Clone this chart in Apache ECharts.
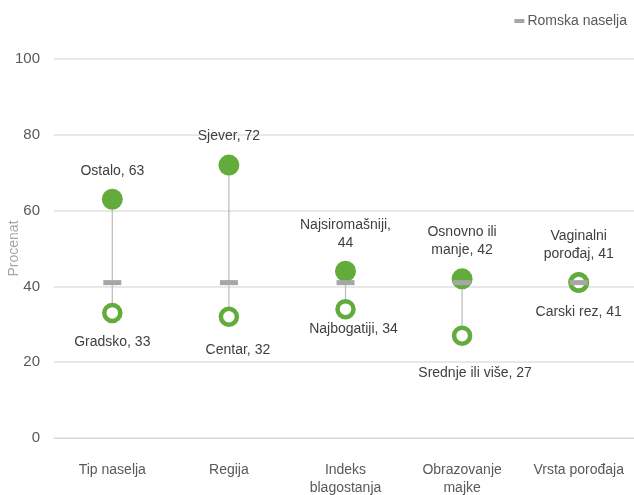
<!DOCTYPE html>
<html>
<head>
<meta charset="utf-8">
<script src="https://cdn.jsdelivr.net/npm/echarts@6/dist/echarts.min.js"></script>
<style>html,body{margin:0;padding:0;background:#fff}#c{width:634px;height:495px}</style>
</head>
<body>
<div id="c"></div>
<script>
const categories = ['Tip naselja', 'Regija', 'Indeks\nblagostanja', 'Obrazovanje\nmajke', 'Vrsta porođaja'];
const romaValues = [41, 41, 41, 41, 41];
const highValues = [63, 72, 44, 42, 41];
const highNames = ['Ostalo', 'Sjever', 'Najsiromašniji,\n', 'Osnovno ili\nmanje', 'Vaginalni\nporođaj'];
const lowValues = [33, 32, 34, 27, 41];
const lowNames = ['Gradsko', 'Centar', 'Najbogatiji', 'Srednje ili više', 'Carski rez'];
const yTicks = [0, 20, 40, 60, 80, 100];

// label placement (style only)
const lowLabelOffsets = [[0, 0], [9, 4], [8, -9], [13, 8], [0, 0]];

const GREEN = '#63ac3c';
const GRAY = '#a6a6a6';
const FONT = 'Liberation Sans, Arial, sans-serif';

const rangeData = categories.map((c, i) => [i,
  Math.min(highValues[i], lowValues[i], romaValues[i]),
  Math.max(highValues[i], lowValues[i], romaValues[i])]);

const chart = echarts.init(document.getElementById('c'), null, {renderer: 'canvas'});
chart.setOption({
  animation: false,
  textStyle: {fontFamily: FONT},
  legend: {
    data: ['Romska naselja'],
    right: 2, top: 9,
    itemWidth: 10, itemHeight: 4, itemGap: 4,
    icon: 'rect',
    textStyle: {color: '#595959', fontSize: 14, fontFamily: FONT, padding: [0, 0, 0, -2]}
  },
  grid: {left: 54, width: 583, top: 59, height: 379, containLabel: false, outerBoundsMode: 'none'},
  xAxis: {
    type: 'category',
    data: categories,
    axisLine: {show: true, lineStyle: {color: '#d9d9d9'}},
    axisTick: {show: false},
    axisLabel: {color: '#595959', fontSize: 14, fontFamily: FONT, margin: 23, lineHeight: 18, interval: 0},
    splitLine: {show: false}
  },
  yAxis: {
    type: 'value', min: 0, max: 100, interval: 20,
    name: 'Procenat', nameLocation: 'middle', nameGap: 33, nameMoveOverlap: false,
    nameTextStyle: {color: '#a6a6a6', fontSize: 14, fontFamily: FONT},
    axisLine: {show: false}, axisTick: {show: false},
    axisLabel: {color: '#595959', fontSize: 15, fontFamily: FONT, margin: 14},
    splitLine: {lineStyle: {color: '#e0e0e0', width: 1.5}}
  },
  series: [
    {
      type: 'custom',
      name: 'range',
      silent: true,
      z: 1,
      data: rangeData,
      renderItem: function (params, api) {
        const p1 = api.coord([api.value(0), api.value(1)]);
        const p2 = api.coord([api.value(0), api.value(2)]);
        return {type: 'line', shape: {x1: p1[0], y1: p1[1], x2: p2[0], y2: p2[1]},
          style: {stroke: '#bfbfbf', lineWidth: 1.3}};
      }
    },
    {
      type: 'scatter',
      name: 'high',
      z: 3,
      symbol: 'circle',
      symbolSize: 21,
      itemStyle: {color: GREEN, opacity: 1},
      data: highValues.map((v, i) => ({
        value: [i, v],
        label: {
          show: true, position: 'top', distance: 9,
          color: '#404040', fontSize: 14, fontFamily: FONT, lineHeight: 18, align: 'center',
          formatter: highNames[i].endsWith('\n') ? highNames[i] + v : highNames[i] + ', ' + v
        }
      }))
    },
    {
      type: 'scatter',
      name: 'low',
      z: 3,
      symbol: 'circle',
      symbolSize: 16,
      itemStyle: {color: '#fff', borderColor: GREEN, borderWidth: 4.5, opacity: 1},
      data: lowValues.map((v, i) => ({
        value: [i, v],
        label: {
          show: true, position: 'bottom', distance: 10,
          offset: lowLabelOffsets[i],
          color: '#404040', fontSize: 14, fontFamily: FONT, lineHeight: 18,
          formatter: lowNames[i] + ', ' + v
        }
      }))
    },
    {
      type: 'scatter',
      name: 'Romska naselja',
      z: 5,
      symbol: 'rect',
      symbolSize: [18, 5],
      itemStyle: {color: GRAY, opacity: 1},
      data: romaValues.map((v, i) => [i, v])
    }
  ]
});
</script>
</body>
</html>
